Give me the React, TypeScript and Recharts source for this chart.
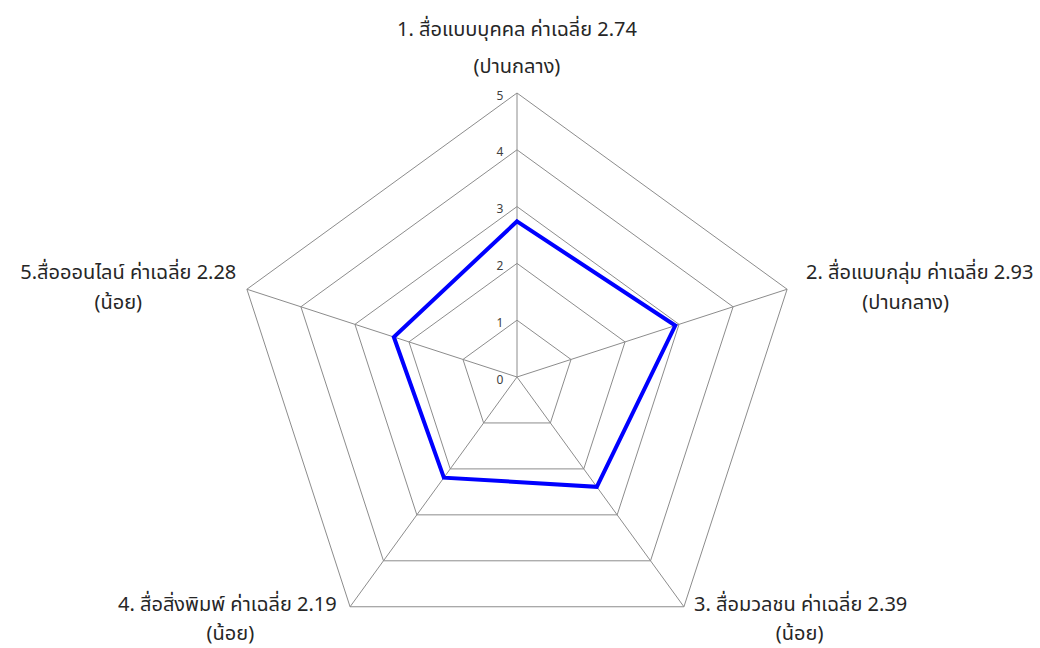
import React from 'react';
import {
  RadarChart,
  Radar,
  PolarGrid,
  PolarAngleAxis,
  PolarRadiusAxis,
} from 'recharts';

const categories = [
  '1. สื่อแบบบุคคล ค่าเฉลี่ย 2.74',
  '2. สื่อแบบกลุ่ม ค่าเฉลี่ย 2.93',
  '3. สื่อมวลชน ค่าเฉลี่ย 2.39',
  '4. สื่อสิ่งพิมพ์ ค่าเฉลี่ย 2.19',
  '5.สื่อออนไลน์ ค่าเฉลี่ย 2.28',
];
const levels = ['(ปานกลาง)', '(ปานกลาง)', '(น้อย)', '(น้อย)', '(น้อย)'];
const means = [2.74, 2.93, 2.39, 2.19, 2.28];
const radiusTicks = [0, 1, 2, 3, 4, 5];

const data = categories.map((name, i) => ({ name, level: levels[i], value: means[i] }));

// label placement relative to the axis end point (line 1 / line 2)
const labelOffsets = [
  { x1: 0, y1: -57, x2: 0, y2: -20 },
  { x1: 125, y1: -15, x2: 111, y2: 15 },
  { x1: 112, y1: -10, x2: 111, y2: 19 },
  { x1: -118, y1: -10, x2: -115, y2: 19 },
  { x1: -111, y1: -15, x2: -121, y2: 15 },
];

const FONT = '"Noto Sans", "Noto Sans Thai", Tahoma, sans-serif';

const AngleTick = ({ x, y, index, payload }: any) => {
  const o = labelOffsets[index];
  const row = data[index];
  return (
    <g>
      <text x={x + o.x1} y={y + o.y1} textAnchor="middle" dominantBaseline="central" fontSize={20} fill="#262626" fontFamily={FONT}>
        {payload.value}
      </text>
      <text x={x + o.x2} y={y + o.y2} textAnchor="middle" dominantBaseline="central" fontSize={20} fill="#262626" fontFamily={FONT}>
        {row.level}
      </text>
    </g>
  );
};

const RadiusTick = ({ x, y, payload }: any) => (
  <text x={x - 17} y={y + 2} textAnchor="middle" dominantBaseline="central" fontSize={12} fill="#404040" fontFamily={FONT}>
    {payload.value}
  </text>
);

export default function App() {
  return (
    <div style={{ position: 'absolute', left: 0, top: 0, width: 1040, height: 648, background: '#fff' }}>
      <RadarChart
        width={1040}
        height={648}
        data={data}
        cx={517}
        cy={377}
        outerRadius={284}
        startAngle={90}
        endAngle={-270}
      >
        <PolarGrid gridType="polygon" stroke="#8c8c8c" strokeWidth={1} />
        <PolarAngleAxis dataKey="name" tick={<AngleTick />} tickLine={false} axisLine={false} />
        <PolarRadiusAxis
          angle={90}
          domain={[0, 5]}
          ticks={radiusTicks as any}
          tickCount={6}
          axisLine={false}
          tickLine={false}
          tick={<RadiusTick />}
        />
        <Radar
          dataKey="value"
          stroke="#0000ff"
          strokeWidth={4}
          fill="none"
          fillOpacity={0}
          dot={false}
          isAnimationActive={false}
        />
      </RadarChart>
    </div>
  );
}
